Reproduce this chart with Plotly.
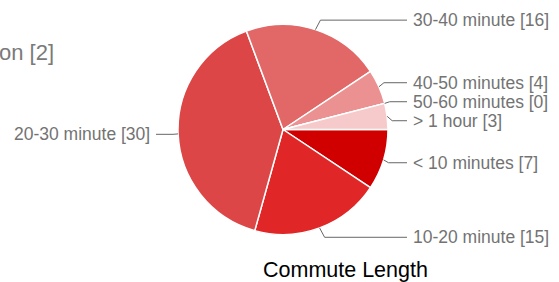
import math
import plotly.graph_objects as go

# ---- data ----
categories = ["< 10 minutes", "10-20 minute", "20-30 minute", "30-40 minute",
              "40-50 minutes", "50-60 minutes", "> 1 hour"]
counts = [7, 15, 30, 16, 4, 0, 3]
colors = ["#D00000", "#E02626", "#DD4646", "#E26767", "#EC9191", "#F2B3B3", "#F6CACA"]
chart_title = "Commute Length"
stray_text = "on [2]"

# ---- layout constants (pixels) ----
W, H = 559, 282
CX, CY, R = 283, 129.5, 105
LABEL_R = 115
GAP = 19
RIGHT_TEXT_X, LEFT_TEXT_X = 411, 152
LABEL_FONT = dict(family="Liberation Sans, Arial, sans-serif", size=17.5, color="#737373")


def px(x):
    return x / W


def py(y):
    return 1 - y / H


fig = go.Figure(go.Pie(
    labels=categories, values=counts, sort=False, direction="clockwise",
    rotation=90, textinfo="none", hoverinfo="label+value",
    marker=dict(colors=colors, line=dict(color="white", width=1.5)),
    domain=dict(x=[px(CX - R), px(CX + R)], y=[py(CY + R + 2), py(CY - R - 2)]),
    showlegend=False,
))

# compute slice mid angles (clockwise from 3 o'clock, pixel y down)
total = sum(counts)
cum = 0
items = []
for cat, v in zip(categories, counts):
    mid = (cum + v / 2) / total * 2 * math.pi
    cum += v
    ax, ay = CX + R * math.cos(mid), CY + R * math.sin(mid)
    ly = CY + LABEL_R * math.sin(mid)
    items.append(dict(text=f"{cat} [{v}]", ax=ax, ay=ay, ly=ly,
                      side=1 if math.cos(mid) >= 0 else -1))

# resolve overlaps per side
for side in (1, -1):
    group = sorted([it for it in items if it["side"] == side], key=lambda d: d["ly"])
    for i in range(1, len(group)):
        if group[i]["ly"] < group[i - 1]["ly"] + GAP:
            group[i]["ly"] = group[i - 1]["ly"] + GAP

shapes, annotations = [], []
for it in items:
    s = it["side"]
    ex = it["ax"] + 5 * s
    endx = RIGHT_TEXT_X - 4 if s > 0 else LEFT_TEXT_X + 4
    path = (f"M {px(it['ax'])},{py(it['ay'])} L {px(ex)},{py(it['ly'])} "
            f"L {px(endx)},{py(it['ly'])}")
    shapes.append(dict(type="path", xref="paper", yref="paper", path=path,
                       line=dict(color="#666666", width=1)))
    annotations.append(dict(
        xref="paper", yref="paper",
        x=px(RIGHT_TEXT_X if s > 0 else LEFT_TEXT_X), y=py(it["ly"]),
        xanchor="left" if s > 0 else "right", yanchor="middle",
        text=it["text"], showarrow=False, font=LABEL_FONT))

annotations.append(dict(xref="paper", yref="paper", x=px(346), y=py(270),
                        xanchor="center", yanchor="middle", text=chart_title,
                        showarrow=False,
                        font=dict(family="Liberation Sans, Arial, sans-serif",
                                  size=21.5, color="#000000")))
annotations.append(dict(xref="paper", yref="paper", x=px(56), y=py(52),
                        xanchor="right", yanchor="middle", text=stray_text,
                        showarrow=False,
                        font=dict(family="Liberation Sans, Arial, sans-serif",
                                  size=22, color="#7a7a7a")))

fig.update_layout(
    width=W, height=H, margin=dict(l=0, r=0, t=0, b=0),
    paper_bgcolor="white", plot_bgcolor="white",
    shapes=shapes, annotations=annotations,
)

fig.write_html("out.html", config={"displayModeBar": False},
               post_script="document.body.style.margin='0px';document.body.style.padding='0px';")
